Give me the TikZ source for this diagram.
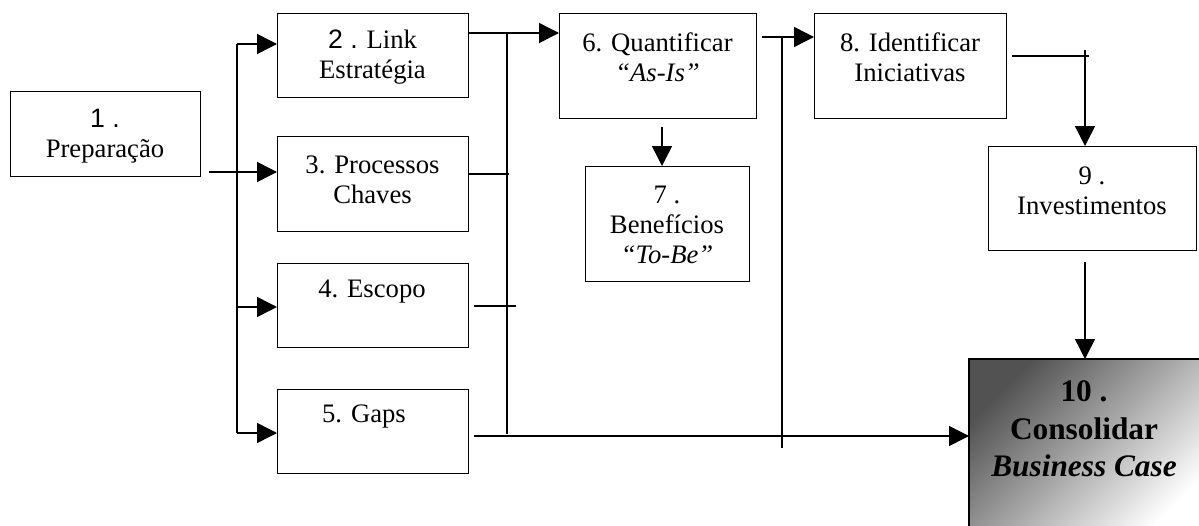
\documentclass[tikz,border=0pt]{standalone}
\usepackage{fontspec}
\setmainfont{Liberation Serif}
\newfontfamily\sanf{Liberation Sans}
\usetikzlibrary{arrows.meta}

% a framed process step given by its left, top, right and bottom edges (in px)
\newcommand\flowbox[5]{%
  \node[stepbox, anchor=north west,
        minimum width={(#4-#2)*0.75pt}, minimum height={(#5-#3)*0.75pt}]
        (#1) at (#2,#3) {};}

\begin{document}
\begin{tikzpicture}[x=0.75pt, y=-0.75pt, line width=1.1pt,
  stepbox/.style={draw, line width=1.1pt, inner sep=0pt, fill=white},
  txt/.style={align=center, inner sep=0pt,
              font=\fontsize{20}{22.5}\selectfont},
  bigtxt/.style={align=center, inner sep=0pt,
              font=\fontsize{23.5}{28}\selectfont\bfseries},
  arr/.style={-{Triangle[length=15pt,width=15pt]}}]

\useasboundingbox (0,0) rectangle (1199,525);
\clip (0,0) rectangle (1199,525);

% final step: shaded box running off the page
\node[draw, line width=1.1pt, anchor=north west, inner sep=0pt,
      minimum width={(1208-969)*0.75pt}, minimum height={(532-359)*0.75pt},
      top color=black!68, bottom color=white, shading angle=45]
      (b10) at (969,359) {};
\draw (b10.south west) -- (b10.north west) -- (b10.north east);

% process steps
\flowbox{b1}{10}{91}{200}{176}
\flowbox{b2}{277}{13}{468}{97}
\flowbox{b3}{277}{136}{468}{231}
\flowbox{b4}{277}{263}{468}{347}
\flowbox{b5}{277}{389}{468}{473}
\flowbox{b6}{559}{13}{756}{118}
\flowbox{b7}{585}{166}{749}{281}
\flowbox{b8}{814}{13}{1006}{118}
\flowbox{b9}{988}{146}{1196}{250}

% labels
\node[txt] (t1) at (105,136) {{\sanf 1 .}\\Preparação};
\node[txt] (t2) at (372.5,57) {{\sanf 2 .} Link\\Estratégia};
\node[txt] (t3) at (372.5,180) {3. Processos\\Chaves};
\node[txt] (t4) at (372,292) {4. Escopo};
\node[txt] (t5) at (364,417) {5. Gaps};
\node[txt] (t6) at (657.5,57) {6. Quantificar\\\textit{“As-Is”}};
\node[txt] (t7) at (667,225) {7 .\\Benefícios\\\textit{“To-Be”}};
\node[txt] (t8) at (910,57) {8. Identificar\\Iniciativas};
\node[txt] (t9) at (1092,191) {9 .\\Investimentos};
\node[bigtxt] (t10) at (1084,429) {10 .\\Consolidar\\\textit{Business Case}};

% distribution bus from step 1
\coordinate (j1) at (209,172);
\coordinate (busN) at (237,44);
\coordinate (bus4) at (237,307);
\coordinate (busS) at (237,433);
\draw (busN) -- (busS);
\draw[arr] (busN) -- (b2.west |- busN);
\draw[arr] (j1) -- (b3.west |- j1);
\draw[arr] (bus4) -- (b4.west |- bus4);
\draw[arr] (busS) -- (b5.west |- busS);

% first collector: steps 2-5
\coordinate (c1N) at (507,33);
\coordinate (c1S) at (507,434);
\draw (c1N) -- (c1S);
\draw[arr] (b2.east |- c1N) -- (b6.west |- c1N);
\coordinate (e3) at (509,174);
\draw (b3.east |- e3) -- (e3);
\coordinate (s4) at (474,306);
\coordinate (e4) at (516,306);
\draw (s4) -- (e4);
\coordinate (s5) at (474,436);
\draw[arr] (s5) -- (b10.west |- s5);

% second collector: step 6 to step 8
\coordinate (s6) at (762,37);
\coordinate (c2N) at (782,37);
\coordinate (c2S) at (782,448);
\draw[arr] (s6) -- (b8.west |- s6);
\draw (c2N) -- (c2S);

% step 6 to step 7
\coordinate (d7) at (662,127);
\draw[arr] (d7) -- (d7 |- b7.north);

% step 8 to step 9
\coordinate (s8) at (1012,56);
\coordinate (e8) at (1089,56);
\draw (s8) -- (e8);
\coordinate (d9) at (1085,50);
\draw[arr] (d9) -- (d9 |- b9.north);

% step 9 to step 10
\coordinate (d10) at (1085,262);
\draw[arr] (d10) -- (d10 |- b10.north);

\end{tikzpicture}
\end{document}
